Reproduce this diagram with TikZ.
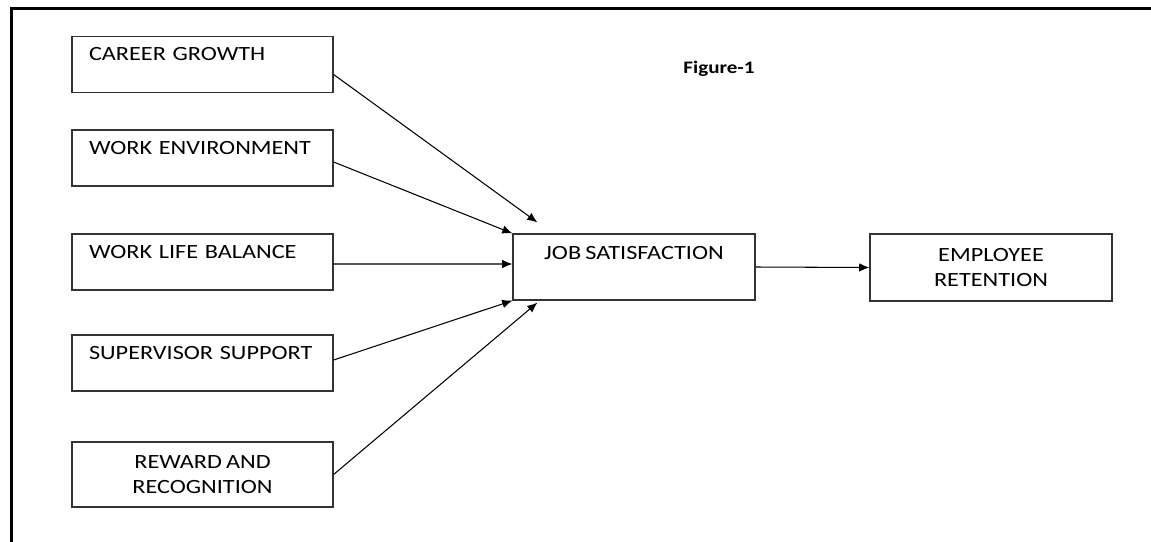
\documentclass[tikz,border=0pt]{standalone}
\usepackage{fontspec}
\setmainfont{Carlito}[FakeStretch=1.2, WordSpace=0.75]
\usepackage{tikz}
\usetikzlibrary{arrows.meta}

\begin{document}
\begin{tikzpicture}[x=0.02cm, y=-0.02cm, >={Latex[length=5.8pt, width=4.8pt]}, semithick,
        font=\fontsize{11.5pt}{14.7pt}\selectfont,
        factor/.style={draw=black!80, line width=0.7pt, minimum width=5.22cm, minimum height=1.12cm,
            text width=5.22cm, inner xsep=0pt, inner ysep=0pt, align=left,
            execute at begin node={\hspace*{0.34cm}},
            text height=0.48cm, text depth=0.64cm},
        factortwo/.style={draw=black!80, line width=0.7pt, minimum width=5.22cm, minimum height=1.3cm,
            inner sep=0pt, align=center},
        outcome/.style={draw=black!80, line width=0.7pt, minimum width=4.84cm, minimum height=1.34cm,
            inner sep=0pt, align=center}]
                \useasboundingbox (0, 0) rectangle (1151, 541);
                \draw[line width=1.7pt] (1160, 8.5) -- (11.5, 8.5) -- (11.5, 550);
                \node (fig) at (719, 69) {\fontsize{10pt}{11pt}\selectfont\bfseries Figure-1};
                \node[factor] (cg) at (202.5, 64.5) {CAREER GROWTH};
                \node[factor] (we) at (202.5, 158) {WORK ENVIRONMENT};
                \node[factor] (wlb) at (202.5, 262) {WORK LIFE BALANCE};
                \node[factor] (ss) at (202.5, 363) {SUPERVISOR SUPPORT};
                \node[factortwo] (rr) at (202.5, 474.5) {REWARD AND\\RECOGNITION};
                \node[outcome, text height=0.5cm, text depth=0.82cm, minimum height=1.32cm] (js) at (634, 267) {JOB SATISFACTION};
                \node[outcome] (er) at (991, 267.5) {EMPLOYEE\\RETENTION};
                \path[->] ([yshift=-0.2cm]cg.east) edge ([xshift=0.5cm, yshift=0.22cm]js.north west)
                          ([yshift=-0.08cm]we.east) edge (js.north west)
                          ([yshift=-0.04cm]wlb.east) edge ([yshift=0.06cm]js.west)
                          ([yshift=0.06cm]ss.east) edge (js.south west)
                          (rr.east) edge ([xshift=0.5cm, yshift=-0.04cm]js.south west)
                          (js.east) edge (er.west);
            \end{tikzpicture}
\end{document}
